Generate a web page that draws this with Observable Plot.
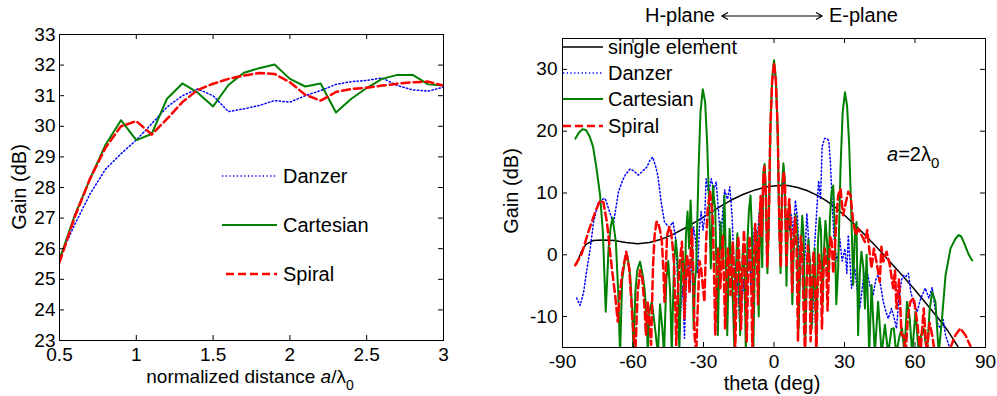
<!DOCTYPE html>
<html><head><meta charset="utf-8">
<script src="https://cdn.jsdelivr.net/npm/d3@7"></script>
<script src="https://cdn.jsdelivr.net/npm/@observablehq/plot@0.6"></script>
<style>
html,body{margin:0;padding:0;background:#fff;}
#wrap{position:relative;width:997px;height:396px;overflow:hidden;background:#fff;}
#left{position:absolute;left:0;top:0;}
#right{position:absolute;left:500px;top:0;}
</style></head><body><div id="wrap"><div id="left"></div><div id="right"></div></div>
<script>
// ---------- Left panel data ----------
const distance = [0.5,0.6,0.7,0.8,0.9,1.0,1.1,1.2,1.3,1.4,1.5,1.6,1.7,1.8,1.9,2.0,2.1,2.2,2.3,2.4,2.5,2.6,2.7,2.8,2.9,3.0];
const danzerGain = [25.7,26.8,27.8,28.6,29.1,29.55,30.08,30.63,31.0,31.22,31.0,30.48,30.57,30.68,30.84,30.79,31.0,31.17,31.37,31.46,31.5,31.58,31.33,31.19,31.15,31.28];
const cartesianGain = [25.65,27.1,28.3,29.4,30.2,29.55,29.75,30.9,31.4,31.1,30.65,31.35,31.75,31.9,32.02,31.55,31.3,31.4,30.45,30.9,31.25,31.55,31.68,31.68,31.37,31.33];
const spiralGain = [25.55,27.05,28.3,29.3,30.0,30.17,29.73,30.24,30.79,31.19,31.39,31.55,31.66,31.74,31.71,31.44,31.03,30.84,31.12,31.22,31.26,31.33,31.39,31.44,31.46,31.33];
const leftXTicks = [0.5,1,1.5,2,2.5,3];
const leftYTicks = [23,24,25,26,27,28,29,30,31,32,33];
const leftSeries = ["Danzer","Cartesian","Spiral"];

// ---------- Right panel data: [theta (deg), gain (dB)] ----------
const singleElement = [[-84,-1.5],[-82,0.5],[-80,1.7],[-77,2.3],[-73,2.4],[-68,2.3],[-63,2.0],[-58,1.8],[-53,2.0],[-48,2.5],[-43,3.3],[-38,4.3],[-33,5.4],[-28,6.6],[-23,7.8],[-18,8.9],[-13,9.8],[-8,10.5],[-3,11.0],[2,11.2],[6,11.2],[10,10.9],[14,10.4],[18,9.7],[22,8.8],[26,7.7],[30,6.4],[34,5.0],[38,3.5],[42,1.9],[46,0.3],[50,-1.4],[55,-3.5],[60,-5.7],[65,-8.0],[70,-10.3],[74,-12.3],[78.5,-15]];

const danzer = [[-84,-7],[-82.5,-8.2],[-81,-6],[-80,-3.3],[-78.2,1],[-76.8,5.3],[-74.7,8.5],[-73,9],[-71.8,9.1],[-70,7],[-68.3,5.1],[-66.2,10.2],[-64.5,12],[-63.3,12.9],[-61.2,13.9],[-59.5,13.5],[-57.7,12.9],[-56,13.5],[-54.1,14.2],[-52.8,15.3],[-51.6,15.8],[-50.5,14.5],[-49.4,12.8],[-48,8.5],[-46.6,5.3],[-45.5,4.8],[-44.5,4.5],[-43,5.3],[-41.6,2.1],[-40.9,-5.4],[-40.2,-13],[-39.5,-7.6],[-38.8,-5],[-38.1,-13.5],[-37.3,-4],[-36.5,-1],[-35.7,-6],[-35,1],[-34.2,4.5],[-33.3,2],[-32.5,-3],[-31.8,4],[-31,7],[-30.2,4],[-29.5,6],[-28.9,12.3],[-27.8,10],[-26.7,12.3],[-25.6,10.5],[-24.6,11.8],[-23.6,7],[-22.8,2],[-22,6],[-21,10.5],[-19.8,9],[-18.8,11],[-17.8,6],[-17,-2],[-16.2,-6],[-15.5,-4],[-14.6,-11],[-13.8,-8],[-13,-4],[-12.2,-9],[-11.4,-2],[-10.6,2],[-9.8,-5],[-9,1],[-8.2,5],[-7.4,0],[-6.5,6],[-5.8,8.5],[-5,3],[-4.3,13.5],[-3.5,9],[-2.8,-1],[-2.1,6],[-1.4,22],[-0.7,28.5],[0,30.5],[0.7,28.5],[1.4,22],[2.1,6],[2.8,-1],[3.5,9],[4.2,13],[5,4],[5.8,7],[6.6,4],[7.4,6.5],[8.2,3],[9.1,8.8],[10,6],[10.8,-2],[11.6,3],[12.5,-6],[13.3,1],[14,6.7],[14.8,2],[15.6,-5],[16.4,-11],[17.2,1],[18,6],[19,12],[19.8,9],[20.5,17.5],[21.5,18.8],[22.5,18.8],[23.3,18.5],[24,15],[24.8,8],[25.5,3],[26.3,0],[27,-1],[28,2.6],[29,-1],[30.2,1],[31,-3],[31.6,3.2],[32.3,-1],[33,-5.4],[34.4,-2.2],[35.5,-6],[36.5,-8.7],[38,-4],[39.4,-2.2],[40.8,-5],[42.2,-6.5],[43.3,-4],[44.3,-3.3],[45.4,-5],[46.5,-7.6],[47.5,-9],[48.6,-10.3],[50,-8.7],[51,-10],[52.1,-11.9],[53.2,-7],[54.3,-4],[55.3,-3.3],[56.2,-3.5],[57.2,-3],[58.2,-6],[59.5,-8],[60.9,-9.2],[62.5,-7],[64.4,-5.4],[65.9,-7],[67.3,-5.3],[68.3,-8],[69.5,-11],[70.8,-11.9],[72,-10.5],[73,-13],[75.1,-15.5],[76.5,-16]];

const cartesian = [[-84.5,18.8],[-83,19.8],[-81.5,20.3],[-80,20.2],[-78.5,19.2],[-77,17.5],[-75.5,13.9],[-74,9.6],[-72.8,3.5],[-71.6,-9.2],[-70.4,1],[-69.5,4.5],[-68.7,6],[-67.3,2.1],[-66.3,-6],[-65.5,-16],[-64.6,-4],[-63.5,-1],[-62.3,-0.3],[-61.2,-3.3],[-60.3,-9],[-59.8,-16],[-59,-6],[-58.2,-2.5],[-57,-1.1],[-56,-3],[-55.1,-5.4],[-54.2,-10],[-53.7,-16],[-53,-9.2],[-52,-7.6],[-50.8,-11.3],[-49.4,-16],[-48.5,-8],[-47.5,-12],[-46.8,-16],[-45.8,-4],[-45,-1],[-44.2,-6],[-43.5,-16],[-42.6,-2],[-41.8,2.4],[-41,-1],[-40.3,-16],[-39.5,-3],[-38.8,0.5],[-38,-8],[-37.5,3],[-36.8,7],[-36.1,1],[-35.5,8.8],[-34.8,2],[-34.2,-12],[-33.6,-4],[-33.1,-2.2],[-32.6,6],[-32.1,13.9],[-31.3,23],[-30.3,26.8],[-29.3,24.7],[-28.4,17.7],[-27.4,5.3],[-26.9,-2.2],[-26.4,4],[-26,11.2],[-25.5,9],[-25,7.5],[-24.4,-4],[-23.9,-13],[-23.3,-2],[-22.8,5.3],[-21.8,-2.2],[-21.1,9.6],[-20.5,0],[-19.9,-13],[-19.4,-4],[-18.9,4.2],[-18.2,-1],[-17.5,-7.6],[-16.8,-16],[-16.2,-2],[-15.6,3.5],[-15,-2],[-14.4,-13],[-13.8,-5],[-13.2,1.5],[-12.5,-3],[-12,-16],[-11.3,2],[-10.7,7],[-10,9.6],[-9.4,4],[-8.8,-16],[-8.2,-2],[-7.6,4],[-7,1],[-6.5,-10],[-6,7],[-5.5,5],[-5,-2],[-4.5,13.5],[-4,14.7],[-3.4,10],[-2.8,-3],[-2.2,5],[-1.5,21],[-0.8,28.5],[0,31.5],[0.8,28.5],[1.5,21],[2.2,5],[2.8,-3],[3.4,11],[4,14.8],[4.6,12],[5.3,-5],[5.9,6],[6.5,8.5],[7.2,3],[7.8,-8],[8.4,1],[9.2,6.5],[9.9,4],[10.5,-12],[11.2,-1],[12,6.3],[12.6,3],[13.2,-16],[13.9,-4],[14.6,2.5],[15.3,-1],[16,-12],[16.6,-5],[17.3,1],[18,-16],[18.7,2],[19.4,6],[20,4],[20.6,-8],[21.2,0],[21.9,5.5],[22.6,2],[23.2,-4],[23.8,6],[24.5,10.2],[25.2,11.2],[25.9,4],[26.5,-8],[27.3,-2.2],[28.3,13.9],[29.2,23],[30.2,26.3],[31.1,24.1],[32,17.7],[33,5.3],[33.7,-4.9],[34.4,3.2],[35.1,5.3],[35.8,-13],[36.5,-3],[37.2,0.5],[38,-2],[38.7,-8.7],[39.4,0],[40.5,-16],[41.5,-4.9],[42.9,-16],[44.3,-7.6],[45.8,-16],[47.2,-11.3],[48.6,-16],[50,-12],[51,-11.9],[52,-16],[53.5,-13],[54.5,-11.9],[55.5,-16],[56.6,-7.6],[57.7,-10],[58.8,-16],[60.2,-9.2],[61.6,-16],[62.6,-13],[63.7,-11.9],[65.1,-16],[66.2,-9],[67.3,-6],[68.7,-7.6],[70.1,-16],[71.5,-10.3],[73,-3.3],[75.1,1],[77.2,2.6],[78.6,3.2],[79.6,3],[80.7,2.1],[82.9,0],[84.3,-0.9]];

const spiral = [[-84.6,-1.7],[-81.8,0.2],[-79,3.7],[-76.1,6.9],[-74,8.8],[-72.6,8.5],[-71.1,5.3],[-69,-2.2],[-67.6,-6.5],[-66.5,-10.8],[-65.5,-6],[-64.7,-3.3],[-62.9,0.5],[-61.6,-2.2],[-60.2,-10.8],[-59,-16],[-58,-6],[-57,-2.5],[-56,-4],[-55,-9],[-54.5,-13],[-53.7,-7.6],[-52.8,-12],[-52.3,-14.6],[-51.5,-2],[-50.8,3.2],[-50,5.3],[-49.4,5.3],[-48.5,4],[-47.7,2.1],[-47,-3],[-46.6,-7.6],[-46,-2],[-45.5,3.2],[-44.5,4.5],[-44,4.2],[-43.3,2],[-42.6,-1.1],[-42,-8],[-41.6,-14.6],[-40.9,-6],[-40.2,-1.7],[-39.2,2.1],[-38.6,-3],[-38.1,-10.3],[-37.5,-4],[-37,0],[-36.5,-2],[-36,-6],[-35.5,0],[-35,4.2],[-34.4,-2],[-33.8,-13],[-33.1,-16],[-32.4,-8],[-31.7,-1],[-31,-2.2],[-30.3,-5],[-29.6,-7.6],[-28.9,2],[-28.2,7.5],[-27.2,10.2],[-26.6,8],[-26,5.3],[-25.5,-3],[-25,-13],[-24.4,-4],[-23.9,1],[-23.3,-1],[-22.8,-5.4],[-22.3,0],[-21.8,3.2],[-21.3,-4],[-20.8,-12],[-20.2,-4],[-19.6,1],[-19,-2],[-18.5,-6.5],[-18,-1],[-17.5,2.1],[-17,-4],[-16.5,-16],[-15.8,-3],[-15.2,3],[-14.6,-2],[-14,-12],[-13.4,-3],[-12.8,4],[-12.2,-1],[-11.6,-14],[-11,-4],[-10.4,3],[-9.8,-2],[-9.2,-16],[-8.6,-2],[-8,5],[-7.4,2],[-6.8,-8],[-6.2,5],[-5.7,9.5],[-5.2,3],[-4.6,12],[-4.1,14.3],[-3.5,10],[-2.9,-2],[-2.3,4],[-1.6,20],[-0.8,28],[0,31.1],[0.8,28],[1.6,20],[2.3,4],[2.9,-2],[3.5,10],[4.1,13.5],[4.7,11],[5.3,-2],[5.9,6],[6.5,9],[7.1,5],[7.7,-6],[8.3,3],[9,6],[9.6,1],[10.2,-14],[10.8,-3],[11.4,3],[12,1],[12.6,-9],[13.2,-16],[13.8,-5],[14.4,1.5],[15,-1],[15.6,-14],[16.2,-4],[16.8,0.5],[17.4,-3],[18,-16],[18.6,-5],[19.2,0],[19.8,-2],[20.4,-12],[21,-3],[21.6,1],[22.2,-1],[22.8,-9],[23.4,-2],[24,3],[24.6,2],[25.2,-3],[25.9,1],[26.6,6],[27.3,9.6],[28.3,10.7],[29.4,6.4],[30.6,8.5],[31.6,10.2],[32.6,9.6],[33.7,5.3],[34.8,3.2],[35.8,4.2],[37.2,3.2],[38.7,2.1],[39.7,4],[40.5,1],[41.5,-2.2],[42.5,1],[43.6,-1.1],[45,-4.4],[45.7,1.3],[46.5,-1.1],[47.9,0.5],[49.3,-1.7],[50.7,-5.4],[51.5,-2.5],[52.1,-8.7],[53.2,-4],[54.3,-13],[55.2,-13],[56,-16],[57,-10],[58,-7.6],[59.5,-7],[60.9,-10.8],[62.3,-16],[63.7,-8.7],[65,-16],[66.2,-11],[67.3,-13],[68.5,-16],[70,-15.5],[72,-16],[74,-16],[75.1,-15],[77.2,-13],[79.3,-11.9],[81.5,-13],[83.6,-14.8]];

const rightXTicks = [-90,-60,-30,0,30,60,90];
const rightYTicks = [-10,0,10,20,30];
const rightSeries = ["single element","Danzer","Cartesian","Spiral"];

// ---------- styles ----------
const FONT = "'Liberation Sans', Arial, Helvetica, sans-serif";
const TICK_FS = 19;
const styles = {
  "single element": {stroke: "#000000", strokeWidth: 1.5},
  "Danzer": {stroke: "#0000ff", strokeWidth: 1.5, strokeDasharray: "1.3,2.4"},
  "Cartesian": {stroke: "#008000", strokeWidth: 2},
  "Spiral": {stroke: "#ff0000", strokeWidth: 2.5, strokeDasharray: "8,4"}
};

function inward(xTicks, yTicks, innerW, innerH, len) {
  return [
    Plot.ruleX(xTicks, {x: d => d, insetTop: innerH - len, stroke: "black", strokeWidth: 1}),
    Plot.ruleX(xTicks, {x: d => d, insetBottom: innerH - len, stroke: "black", strokeWidth: 1}),
    Plot.ruleY(yTicks, {y: d => d, insetRight: innerW - len, stroke: "black", strokeWidth: 1}),
    Plot.ruleY(yTicks, {y: d => d, insetLeft: innerW - len, stroke: "black", strokeWidth: 1})
  ];
}

function applyStyle(sel, st) {
  sel.attr("stroke", st.stroke).attr("stroke-width", st.strokeWidth).attr("fill", "none");
  if (st.strokeDasharray) sel.attr("stroke-dasharray", st.strokeDasharray);
  return sel;
}

// ---------- Left plot ----------
{
  const W = 460, H = 396, mL = 59, mR = 17, mT = 34, mB = 56;
  const rows = distance.map((d, i) => ({d, Danzer: danzerGain[i], Cartesian: cartesianGain[i], Spiral: spiralGain[i]}));
  const svg = Plot.plot({
    width: W, height: H, marginLeft: mL, marginRight: mR, marginTop: mT, marginBottom: mB,
    style: {fontFamily: FONT, fontSize: TICK_FS + "px", background: "white", color: "black", overflow: "visible"},
    x: {domain: [0.5, 3]},
    y: {domain: [23, 33]},
    marks: [
      ...leftSeries.map(s => Plot.line(rows, {x: "d", y: s, ...styles[s], clip: true})),
      Plot.frame({stroke: "black", strokeWidth: 1}),
      ...inward(leftXTicks, leftYTicks, W - mL - mR, H - mT - mB, 5),
      Plot.axisX({ticks: leftXTicks, tickSize: 0, tickPadding: 7, fontSize: TICK_FS, tickFormat: d => String(d), label: null}),
      Plot.axisY({ticks: leftYTicks, tickSize: 0, tickPadding: 4, fontSize: TICK_FS, tickFormat: d => String(d), label: null})
    ]
  });
  const g = d3.select(svg).append("g").attr("font-family", FONT).attr("fill", "black").attr("text-anchor", "start");
  // legend
  const legY = [176, 225, 274];
  leftSeries.forEach((s, i) => {
    applyStyle(g.append("line").attr("x1", s === "Spiral" ? 226 : 222).attr("x2", 277).attr("y1", legY[i]).attr("y2", legY[i]), styles[s]);
    g.append("text").attr("x", 283).attr("y", legY[i] + 7).attr("text-anchor", "start").attr("font-size", 20).text(s);
  });
  // axis labels
  const xl = g.append("text").attr("x", 250).attr("y", 383).attr("text-anchor", "middle").attr("font-size", 19);
  xl.append("tspan").text("normalized distance ");
  xl.append("tspan").attr("font-style", "italic").text("a");
  xl.append("tspan").text("/λ");
  xl.append("tspan").attr("dy", 7).attr("font-size", 14).text("0");
  g.append("text").attr("transform", "translate(26,187) rotate(-90)").attr("text-anchor", "middle").attr("font-size", 20).text("Gain (dB)");
  document.getElementById("left").appendChild(svg);
}

// ---------- Right plot ----------
{
  const W = 497, H = 396, mL = 62, mR = 12, mT = 38, mB = 49;
  const toRows = (arr) => arr.map(([t, v]) => ({t, v}));
  const dataMap = {"single element": singleElement, "Danzer": danzer, "Cartesian": cartesian, "Spiral": spiral};
  const svg = Plot.plot({
    width: W, height: H, marginLeft: mL, marginRight: mR, marginTop: mT, marginBottom: mB,
    style: {fontFamily: FONT, fontSize: TICK_FS + "px", background: "white", color: "black", overflow: "visible"},
    x: {domain: [-90, 90]},
    y: {domain: [-15, 35]},
    marks: [
      ...rightSeries.map(s => Plot.line(toRows(dataMap[s]), {x: "t", y: "v", ...styles[s], clip: true})),
      Plot.frame({stroke: "black", strokeWidth: 1}),
      ...inward(rightXTicks, rightYTicks, W - mL - mR, H - mT - mB, 5),
      Plot.axisX({ticks: rightXTicks, tickSize: 0, tickPadding: 7, fontSize: TICK_FS, tickFormat: d => String(d), label: null}),
      Plot.axisY({ticks: rightYTicks, tickSize: 0, tickPadding: 5, fontSize: TICK_FS, tickFormat: d => String(d), label: null})
    ]
  });
  const g = d3.select(svg).append("g").attr("font-family", FONT).attr("fill", "black").attr("text-anchor", "start");
  // legend
  const legY = [47, 73, 99, 126];
  rightSeries.forEach((s, i) => {
    applyStyle(g.append("line").attr("x1", 63).attr("x2", 103).attr("y1", legY[i]).attr("y2", legY[i]), styles[s]);
    g.append("text").attr("x", 108).attr("y", legY[i] + 7).attr("text-anchor", "start").attr("font-size", 20).text(s);
  });
  // a = 2 lambda0
  const an = g.append("text").attr("x", 387).attr("y", 161).attr("text-anchor", "start").attr("font-size", 20);
  an.append("tspan").attr("font-style", "italic").text("a");
  an.append("tspan").text("=2λ");
  an.append("tspan").attr("dy", 7).attr("font-size", 15).text("0");
  // top annotation
  g.append("text").attr("x", 215).attr("y", 22).attr("text-anchor", "end").attr("font-size", 20).text("H-plane");
  g.append("text").attr("x", 329).attr("y", 22).attr("text-anchor", "start").attr("font-size", 20).text("E-plane");
  g.append("path").attr("d", "M222,16 L322,16 M228,12.5 L222,16 L228,19.5 M316,12.5 L322,16 L316,19.5")
    .attr("stroke", "black").attr("stroke-width", 1.2).attr("fill", "none");
  // axis labels
  g.append("text").attr("x", 272).attr("y", 390).attr("text-anchor", "middle").attr("font-size", 20).text("theta (deg)");
  g.append("text").attr("transform", "translate(18,191) rotate(-90)").attr("text-anchor", "middle").attr("font-size", 20).text("Gain (dB)");
  document.getElementById("right").appendChild(svg);
}
</script>
</body></html>
